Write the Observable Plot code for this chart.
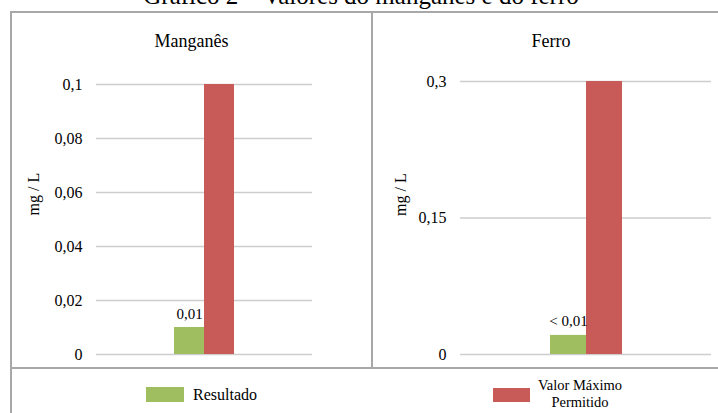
<!DOCTYPE html>
<html>
<head>
<meta charset="utf-8">
<script src="https://cdn.jsdelivr.net/npm/d3@7"></script>
<script src="https://cdn.jsdelivr.net/npm/@observablehq/plot@0.6"></script>
<style>
  html, body { margin: 0; padding: 0; background: #fff; }
  #wrap { position: relative; width: 718px; height: 413px; overflow: hidden; background: #fff;
          font-family: "Liberation Serif", "Times New Roman", serif; color: #000; }
  .abs { position: absolute; }
  .line { position: absolute; background: #a8a8a8; }
  .title { left: 0; width: 722px; text-align: center; top: -17px; font-size: 25px; line-height: 25px; white-space: nowrap; }
  .ptitle { font-size: 18px; line-height: 18px; white-space: nowrap; text-align: center; width: 200px; }
</style>
</head>
<body>
<div id="wrap">
  <div class="abs title">Gráfico 2 – Valores do manganês e do ferro</div>
  <div class="line" style="left:10px;top:11px;width:708px;height:2px"></div>
  <div class="line" style="left:10px;top:11px;width:2px;height:402px"></div>
  <div class="line" style="left:371px;top:11px;width:2px;height:358px"></div>
  <div class="line" style="left:10px;top:367px;width:708px;height:2px"></div>
  <div id="p1" class="abs" style="left:0;top:0"></div>
  <div id="p2" class="abs" style="left:372px;top:0"></div>
  <div id="t1" class="abs ptitle" style="left:91.5px;top:32px"></div>
  <div id="t2" class="abs ptitle" style="left:451px;top:32px"></div>
  <div id="legend"></div>
</div>
<script>
// ---- data ----
const panels = ["Manganês", "Ferro"];
const series = ["Resultado", "Valor Máximo Permitido"];
const seriesLines = [["Resultado"], ["Valor Máximo", "Permitido"]];
const colors = ["#9FBE60", "#C85A58"];
const manganesValues = [0.01, 0.1];
const ferroValues = [0.021, 0.3];
const manganesLabels = ["0,01", ""];
const ferroLabels = ["< 0,01", ""];
const manganesTicks = [0, 0.02, 0.04, 0.06, 0.08, 0.1];
const ferroTicks = [0, 0.15, 0.3];
const yLabel = "mg / L";

const fmt = d => String(d).replace(".", ",");
const font = '"Liberation Serif", "Times New Roman", serif';

function panel({values, labels, ticks, width, height, marginLeft, marginRight, marginTop, marginBottom, paddingOuter, labelDx, labelDy}) {
  const rows = series.map((s, i) => ({series: s, value: values[i], label: labels[i]}));
  return Plot.plot({
    width, height, marginLeft, marginRight, marginTop, marginBottom,
    style: {background: "transparent", fontFamily: font, fontSize: "16px", color: "#000", overflow: "visible"},
    x: {type: "band", domain: series, paddingInner: 0, paddingOuter, align: 0.5, axis: null},
    y: {domain: [0, ticks[ticks.length - 1]]},
    color: {domain: series, range: colors},
    marks: [
      Plot.gridY(ticks, {stroke: "#cdcdcd", strokeOpacity: 1, strokeWidth: 1.5}),
      Plot.axisY(ticks, {tickSize: 0, tickPadding: 14, tickFormat: fmt, label: null, fontSize: 16}),
      Plot.barY(rows, {x: "series", y: "value", fill: "series"}),
      Plot.text(rows, {x: "series", y: "value", text: "label", dy: -9, lineAnchor: "bottom", fontSize: 15}),
      Plot.text([yLabel], {frameAnchor: "left", dx: labelDx, dy: labelDy, rotate: -90, fontSize: 16})
    ]
  });
}

document.getElementById("p1").appendChild(panel({
  values: manganesValues, labels: manganesLabels, ticks: manganesTicks,
  width: 372, height: 368, marginLeft: 96, marginRight: 60, marginTop: 84, marginBottom: 14,
  paddingOuter: 2.484, labelDx: -63, labelDy: -4
}));
document.getElementById("p2").appendChild(panel({
  values: ferroValues, labels: ferroLabels, ticks: ferroTicks,
  width: 346, height: 368, marginLeft: 88, marginRight: 7, marginTop: 81, marginBottom: 14,
  paddingOuter: 2.438, labelDx: -60, labelDy: -2
}));
document.getElementById("t1").textContent = panels[0];
document.getElementById("t2").textContent = panels[1];

// ---- legend ----
const legend = document.getElementById("legend");
const legendPos = [
  {sw: [146, 387, 38, 15], text: [193, 386, 16, "left"]},
  {sw: [493, 388, 37, 14], text: [530, 377, 14.5, "center"]}
];
series.forEach((s, i) => {
  const p = legendPos[i];
  const sw = document.createElement("div");
  sw.className = "abs";
  Object.assign(sw.style, {left: p.sw[0] + "px", top: p.sw[1] + "px", width: p.sw[2] + "px", height: p.sw[3] + "px", background: colors[i]});
  legend.appendChild(sw);
  const t = document.createElement("div");
  t.className = "abs";
  Object.assign(t.style, {left: p.text[0] + "px", top: p.text[1] + "px", fontSize: p.text[2] + "px",
    lineHeight: "17px", textAlign: p.text[3], width: "100px", whiteSpace: "nowrap"});
  seriesLines[i].forEach((ln, j) => {
    if (j) t.appendChild(document.createElement("br"));
    t.appendChild(document.createTextNode(ln));
  });
  legend.appendChild(t);
});
</script>
</body>
</html>
